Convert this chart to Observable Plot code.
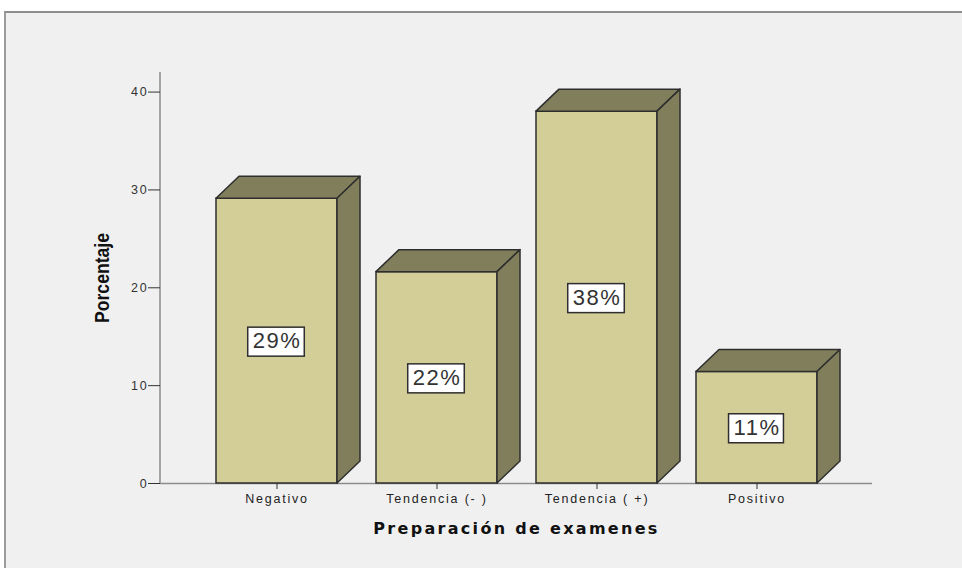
<!DOCTYPE html>
<html><head><meta charset="utf-8">
<script src="https://cdn.jsdelivr.net/npm/d3@7"></script>
<script src="https://cdn.jsdelivr.net/npm/@observablehq/plot@0.6"></script>
<style>
html,body{margin:0;padding:0;background:#fff;}
#wrap{position:relative;width:962px;height:568px;overflow:hidden;}
#frame{position:absolute;left:4px;top:11px;width:1000px;height:600px;background:#f0f0f0;border-top:2px solid #8e8e8e;border-left:2px solid #9a9a9a;}
#chart{position:absolute;left:0;top:0;}
</style></head><body>
<div id="wrap"><div id="frame"></div><div id="chart"></div></div>
<script>
const categories = ["Negativo", "Tendencia (- )", "Tendencia ( +)", "Positivo"];
const percentages = [29.1, 21.6, 38.0, 11.4];
const labels = ["29%", "22%", "38%", "11%"];
const yTicks = [0, 10, 20, 30, 40];
const xTitle = "Preparación de examenes";
const yTitle = "Porcentaje";

const data = categories.map((c, i) => ({cat: c, pct: percentages[i], label: labels[i]}));
const frontColor = "#d3cd98", shadeColor = "#817f5b", edge = "#2e2e2e";
const depthX = 23, depthY = 22;

const plot = Plot.plot({
  width: 962, height: 568,
  marginLeft: 160, marginRight: 90, marginTop: 72, marginBottom: 85,
  style: {background: "transparent", fontFamily: "'Liberation Sans', Arial, sans-serif", fontSize: "12px", color: "#222", overflow: "visible"},
  x: {domain: categories, paddingInner: 0.246, paddingOuter: 0.34, label: null},
  y: {domain: [0, 42], label: null},
  marks: [
    Plot.ruleY([0], {stroke: "#8c8c8c", strokeWidth: 1.5}),
    Plot.barY(data, {x: "cat", y: "pct", fill: frontColor, stroke: edge, strokeWidth: 1.5}),
    Plot.text(data, {x: "cat", y: d => d.pct / 2, text: "label", fontSize: 22, fill: "#333"}),
    Plot.axisY({ticks: yTicks, tickSize: 12, tickPadding: 0, label: null, stroke: "#333", fill: "#333", fontSize: 12.5}),
    Plot.axisX({tickSize: 6, tickPadding: 5, label: null, stroke: "#333", fill: "#222", fontSize: 12.5}),
    Plot.text([xTitle], {frameAnchor: "bottom", textAnchor: "middle", lineAnchor: "bottom", dy: 50, fontWeight: "bold", fontSize: 16, fill: "#111"}),
    Plot.text([yTitle], {frameAnchor: "left", textAnchor: "middle", dx: -58, rotate: -90, fontWeight: "bold", fontSize: 21, fill: "#111"})
  ]
});
document.getElementById("chart").append(plot);

const svg = d3.select(plot);
const xs = plot.scale("x"), ys = plot.scale("y");
const xBand = d3.scaleBand(xs.domain, xs.range)
  .paddingInner(xs.paddingInner ?? 0.246).paddingOuter(xs.paddingOuter ?? 0.34).align(xs.align ?? 0.5);
const X = xs.apply ? (v => xs.apply(v)) : (v => xBand(v));
const BW = xs.bandwidth ?? xBand.bandwidth();
const Y = d3.scaleLinear(ys.domain, ys.range);

// y-axis line
svg.insert("line", ":first-child")
  .attr("x1", xs.range[0]).attr("x2", xs.range[0])
  .attr("y1", ys.range[0]).attr("y2", ys.range[1])
  .attr("stroke", "#8c8c8c").attr("stroke-width", 1.5);

// 3D faces
const textGroups = svg.selectAll('g[aria-label="text"]').nodes();
const labelG = textGroups[0];
const faces = svg.insert("g", () => labelG);
for (const d of data) {
  const x0 = X(d.cat), x1 = x0 + BW, yt = Y(d.pct), yb = Y(0);
  const top = [[x0, yt], [x0 + depthX, yt - depthY], [x1 + depthX, yt - depthY], [x1, yt]];
  const side = [[x1, yt], [x1 + depthX, yt - depthY], [x1 + depthX, yb - depthY], [x1, yb]];
  for (const p of [top, side]) {
    faces.append("polygon").attr("points", p.map(q => q.join(",")).join(" "))
      .attr("fill", shadeColor).attr("stroke", edge).attr("stroke-width", 1.5).attr("stroke-linejoin", "round");
  }
}

// label boxes
d3.select(labelG).selectAll("text").style("letter-spacing", "1.5px");
d3.select(labelG).selectAll("text").each(function() {
  const b = this.getBBox();
  const r = d3.select(this.parentNode).insert("rect", () => this)
    .attr("x", b.x - 5).attr("y", b.y - 1).attr("width", b.width + 8).attr("height", b.height + 4)
    .attr("fill", "#fff").attr("stroke", edge).attr("stroke-width", 1.5);
  const t = this.getAttribute("transform");
  if (t) r.attr("transform", t);
});

// tick label spacing
svg.selectAll('g[aria-label="x-axis tick label"] text, g[aria-label="y-axis tick label"] text').style("letter-spacing", "1.8px");

// titles
svg.selectAll("text").filter(function() { return this.textContent === xTitle; })
  .style("font-family", "'DejaVu Sans', Verdana, sans-serif").style("letter-spacing", "2.3px");
svg.selectAll("text").filter(function() { return this.textContent === yTitle; })
  .attr("textLength", 90).attr("lengthAdjust", "spacingAndGlyphs");
</script>
</body></html>
